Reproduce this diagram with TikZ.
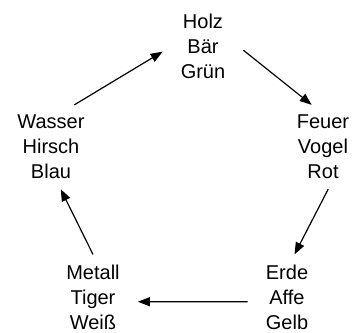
\documentclass[tikz,border=0pt]{standalone}
\usepackage{fontspec}
\setmainfont{Liberation Sans}
\usepackage{tikz}
\usetikzlibrary{arrows.meta}

\begin{document}
\begin{tikzpicture}[x=1pt, y=-1pt, >={Triangle[length=12pt,width=9pt]},
    phase/.style={align=center, inner xsep=18pt, inner ysep=10pt, font=\fontsize{20}{25}\selectfont}]
    \useasboundingbox (0,0) rectangle (358,332);
    \node (holz) [phase] at (203,46) {Holz\\Bär\\Grün};
    \node (feuer) [phase] at (323,147) {Feuer\\Vogel\\Rot};
    \node (erde) [phase] at (287,297) {Erde\\Affe\\Gelb};
    \node (metall) [phase] at (93,297) {Metall\\Tiger\\Weiß};
    \node (wasser) [phase] at (51,147) {Wasser\\Hirsch\\Blau};

    \draw [->, line width=1.2pt] (wasser.61) -- (holz.188);
    \draw [->, line width=1.2pt] (holz.354) -- (feuer.105);
    \draw [->, line width=1.2pt] (feuer.277) -- (erde.80);
    \draw [->, line width=1.2pt] (erde.187) -- (metall.354);
    \draw [->, line width=1.2pt] (metall.90) -- (wasser.283);
\end{tikzpicture}
\end{document}
